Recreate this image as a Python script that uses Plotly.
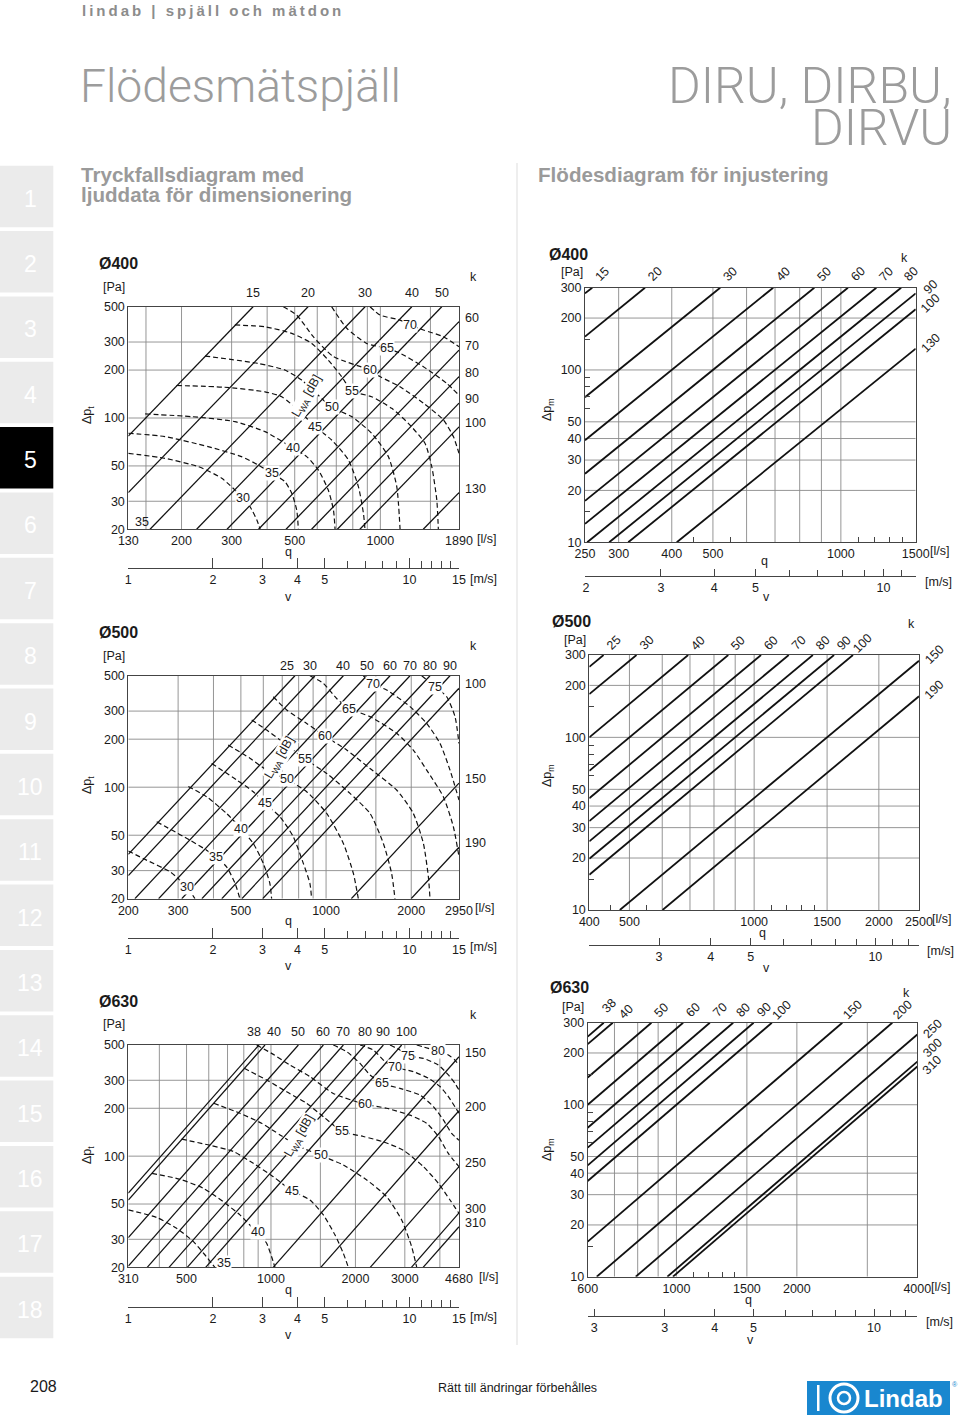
import math
import plotly.graph_objects as go

lg = math.log10
W, H = 960, 1416
FONT = "Liberation Sans"
INK = "#1a1a1a"

# ======================= DATA =======================
# ---- left charts: total pressure drop Δp_t vs flow q, k-lines + L_WA contours ----
L_p_range = [20, 500]
L_p_labels = [20, 30, 50, 100, 200, 300, 500]
L_p_grid = [30, 50, 100, 200, 300]
L_v_range = [1, 15]
L_v_major = [1, 2, 3, 4, 5, 10, 15]
L_v_text = ["1", "2", "3", "4", "5", "10", "15"]
L_v_minor = [6, 7, 8, 9, 11, 12, 13, 14]

# Ø400
L1_q_range = [130, 1890]
L1_q_labels = [130, 200, 300, 500, 1000, 1890]
L1_q_grid = [150, 200, 300, 400, 500, 600, 700, 800, 900, 1000, 1500]
L1_k = [15, 20, 30, 40, 50, 60, 70, 80, 90, 100, 130]
L1_k_q0 = [130, 130, 155, 226, 289, 373, 466, 573, 706, 847, 1415]
L1_k_p0 = [77, 34, 20, 20, 20, 20, 20, 20, 20, 20, 20]
L1_k_q1 = [357, 557, 884, 1290, 1644, 1890, 1890, 1890, 1890, 1890, 1890]
L1_k_p1 = [500, 500, 500, 500, 500, 403, 267, 182, 124, 88, 34]
L1_lwa = [30, 35, 40, 45, 50, 55, 60, 65, 70]
L1_lwa_q = [
    [130, 175, 229, 277, 330, 348, 368, 378],
    [130, 175, 248, 325, 372, 415, 462, 488, 508, 515],
    [149, 217, 308, 393, 495, 551, 605, 656, 684, 693],
    [192, 284, 393, 450, 529, 589, 674, 772, 837, 872, 883],
    [242, 372, 462, 529, 605, 674, 793, 932, 1067, 1142, 1173],
    [308, 393, 488, 574, 656, 731, 793, 932, 1096, 1254, 1435, 1516, 1579, 1599],
    [456, 508, 581, 684, 920, 997, 1173, 1417, 1666, 1806, 1890],
    [674, 762, 895, 1052, 1173, 1417, 1711, 1890],
    [920, 997, 1173, 1272, 1417, 1666, 1890],
]
L1_lwa_p = [
    [60.0, 55.8, 49.5, 41.8, 31.3, 27.8, 22.9, 20],
    [80.2, 76.4, 66.1, 57.2, 50.7, 45.0, 39.8, 33.7, 26.5, 20],
    [106, 102, 94.9, 82.1, 64.5, 57.2, 47.2, 35.3, 26.5, 20],
    [160, 156, 146, 136, 107, 88.3, 72.8, 54.5, 37.1, 25.2, 20],
    [245, 220, 200, 173, 139, 117, 102, 80.2, 57.2, 37.1, 20],
    [384, 374, 340, 294, 231, 182, 148, 136, 115, 92.6, 69.4, 49.5, 30.6, 20],
    [500, 443, 324, 243, 200, 182, 157, 124, 97.2, 76.4, 60],
    [500, 366, 294, 274, 255, 210, 165, 139],
    [500, 443, 412, 384, 357, 324, 280],
]

# Ø500
L2_q_range = [200, 2950]
L2_q_labels = [200, 300, 500, 1000, 2000, 2950]
L2_q_grid = [300, 400, 500, 600, 700, 800, 900, 1000, 1500, 2000]
L2_k = [25, 30, 40, 50, 60, 70, 80, 90, 100, 150, 190]
L2_k_q0 = [200, 200, 211, 256, 309, 364, 428, 504, 597, 1228, 1998]
L2_k_p0 = [38, 27.9, 20, 20, 20, 20, 20, 20, 20, 20, 20]
L2_k_q1 = [776, 913, 1151, 1392, 1683, 1980, 2330, 2742, 2950, 2950, 2950]
L2_k_p1 = [500, 500, 500, 500, 500, 500, 500, 500, 417, 106, 42]
L2_lwa = [30, 35, 40, 45, 50, 55, 60, 65, 70, 75]
L2_lwa_q = [
    [200, 232, 281, 304, 323, 344],
    [252, 330, 378, 407, 445, 477, 496],
    [326, 378, 445, 502, 553, 600, 633, 642],
    [394, 483, 553, 608, 687, 766, 831, 877, 889],
    [451, 538, 617, 726, 854, 1005, 1151, 1249, 1300],
    [546, 617, 687, 766, 842, 1005, 1215, 1430, 1594, 1705, 1752],
    [651, 726, 854, 992, 1183, 1430, 1776, 2034, 2208, 2299, 2330],
    [877, 978, 1090, 1205, 1430, 1776, 2034, 2268, 2597, 2818, 2950],
    [1354, 1469, 1637, 1980, 2268, 2528, 2742, 2950],
    [2178, 2427, 2669, 2856, 2950],
]
L2_lwa_p = [
    [39.8, 34.9, 29.5, 26.2, 23.6, 20],
    [60.7, 46.6, 40.3, 36.7, 31.7, 24.9, 20],
    [101, 87.2, 68.5, 54.7, 44.4, 33.3, 24.9, 20],
    [141, 111, 93.7, 79.2, 65.3, 48.9, 33.3, 24.9, 20],
    [184, 152, 128, 112, 93.7, 68.5, 44.4, 28.8, 20],
    [264, 228, 198, 171, 150, 122, 91.4, 68.5, 44.4, 28.8, 20],
    [369, 305, 251, 209, 171, 131, 96.0, 68.5, 44.4, 27.5, 20],
    [500, 448, 360, 311, 277, 218, 171, 128, 87.2, 56.5, 36.7],
    [500, 443, 407, 320, 251, 188, 128, 83.1],
    [500, 427, 369, 277, 188],
]

# Ø630
L3_q_range = [310, 4680]
L3_q_labels = [310, 500, 1000, 2000, 3000, 4680]
L3_q_grid = [400, 500, 600, 700, 800, 900, 1000, 1500, 2000, 3000, 4000]
L3_k = [38, 40, 50, 60, 70, 80, 90, 100, 150, 200, 250, 300, 310]
L3_k_q0 = [310, 310, 310, 310, 362, 433, 503, 585, 1018, 1505, 2258, 3166, 3486]
L3_k_p0 = [58.5, 53.0, 30.7, 20.35, 20, 20, 20, 20, 20, 20, 20, 20, 20]
L3_k_q1 = [906, 952, 1252, 1537, 1811, 2163, 2515, 2923, 4680, 4680, 4680, 4680, 4680]
L3_k_p1 = [500, 500, 500, 500, 500, 500, 500, 500, 422, 193, 86, 44, 36]
L3_lwa = [35, 40, 45, 50, 55, 60, 65, 70, 75, 80]
L3_lwa_q = [
    [310, 391, 461, 529, 582, 614, 631],
    [376, 474, 574, 676, 775, 853, 901, 965, 1005, 1033],
    [480, 606, 734, 865, 1019, 1185, 1377, 1537, 1692, 1811, 1887],
    [625, 775, 926, 1077, 1234, 1504, 1811, 2194, 2584, 2923, 3172, 3308],
    [803, 965, 1137, 1340, 1537, 1796, 2134, 2515, 2963, 3493, 3950, 4347, 4680],
    [889, 1005, 1169, 1377, 1668, 2164, 2584, 3130, 3590, 3950, 4288, 4680],
    [1668, 1862, 2077, 2255, 2481, 2883, 3398, 3792, 4115, 4406, 4680],
    [2077, 2317, 2549, 2767, 3216, 3640, 4005, 4288, 4680],
    [2656, 2883, 3087, 3493, 3950, 4288, 4527, 4680],
    [3308, 3640, 3950, 4288, 4527, 4680],
]
L3_lwa_p = [
    [45.9, 41.2, 35.2, 29.0, 23.9, 21.2, 20],
    [78.0, 71.5, 62.8, 51.7, 42.7, 36.0, 33.2, 28.3, 23.3, 20],
    [128, 117, 107, 90.1, 74.3, 60.7, 53.0, 42.7, 31.9, 24.5, 20],
    [215, 186, 161, 136, 117, 101, 88.0, 70.8, 55.6, 39.7, 27.0, 20],
    [357, 301, 254, 215, 177, 143, 133, 123, 109, 85.9, 67.5, 53.0, 43.7],
    [500, 443, 374, 316, 248, 212, 200, 181, 161, 133, 104, 85.9],
    [500, 454, 383, 324, 287, 267, 242, 205, 169, 139, 126],
    [500, 465, 393, 362, 340, 309, 274, 237, 186],
    [500, 465, 428, 412, 374, 324, 287, 261],
    [500, 476, 458, 433, 402, 374],
]

# ---- right charts: measuring pressure Δp_m vs flow q ----
R_p_range = [10, 300]
R_p_labels = [10, 20, 30, 40, 50, 100, 200, 300]
R_p_grid = [20, 30, 40, 50, 100, 200]
R_p_minor = [15, 60, 70, 80, 90, 150]

R1_q_range = [250, 1500]
R1_q_labels = [250, 300, 400, 500, 1000, 1500]
R1_q_grid = [300, 400, 500, 600, 700, 800, 900, 1000]
R1_q_minor = [450, 550, 1100, 1200, 1300, 1400]
R1_v_range = [1.99, 11.9]
R1_v_major = [2, 3, 4, 5, 10]
R1_v_text = ["2", "3", "4", "5", "10"]
R1_v_minor = [6, 7, 8, 9, 11]
R1_k = [15, 20, 30, 40, 50, 60, 70, 80, 90, 100, 130]
R1_k_q0 = [250, 250, 250, 250, 250, 250, 250, 253, 285, 316, 411]
R1_k_p0 = [278, 156, 69.4, 39.1, 25, 17.4, 12.8, 10, 10, 10, 10]
R1_k_q1 = [260, 346, 520, 693, 866, 1039, 1212, 1386, 1500, 1500, 1500]
R1_k_p1 = [300, 300, 300, 300, 300, 300, 300, 300, 278, 225, 133]

R2_q_range = [400, 2500]
R2_q_labels = [400, 500, 1000, 1500, 2000, 2500]
R2_q_grid = [500, 600, 700, 800, 900, 1000, 1500, 2000]
R2_q_minor = [450, 550, 1100, 1200, 1300, 1400]
R2_v_range = [2.035, 12.75]
R2_v_major = [3, 4, 5, 10]
R2_v_text = ["3", "4", "5", "10"]
R2_v_minor = [6, 7, 8, 9, 11, 12]
R2_k = [25, 30, 40, 50, 60, 70, 80, 90, 100, 150, 190]
R2_k_q0 = [400, 400, 400, 400, 400, 400, 400, 400, 400, 474, 601]
R2_k_p0 = [256, 178, 100, 64, 44.4, 32.7, 25, 19.8, 16, 10, 10]
R2_k_q1 = [433, 520, 693, 866, 1039, 1212, 1386, 1559, 1732, 2500, 2500]
R2_k_p1 = [300, 300, 300, 300, 300, 300, 300, 300, 300, 278, 173]

R3_q_range = [600, 4000]
R3_q_labels = [600, 1000, 1500, 2000, 4000]
R3_q_grid = [700, 800, 900, 1000, 1500, 2000, 3000]
R3_q_minor = [1100, 1200, 1300, 1400]
R3_v_range = [1.925, 12.83]
R3_v_major = [2, 3, 4, 5, 10]
R3_v_text = ["3", "3", "4", "5", "10"]
R3_v_minor = [6, 7, 8, 9, 11, 12]
R3_k = [38, 40, 50, 60, 70, 80, 90, 100, 150, 200, 250, 300, 310]
R3_k_q0 = [600, 600, 600, 600, 600, 600, 600, 600, 600, 632, 791, 949, 980]
R3_k_p0 = [249, 225, 144, 100, 73.5, 56.3, 44.4, 36, 16, 10, 10, 10, 10]
R3_k_q1 = [658, 693, 866, 1039, 1212, 1386, 1559, 1732, 2598, 3464, 4000, 4000, 4000]
R3_k_p1 = [300, 300, 300, 300, 300, 300, 300, 300, 300, 300, 256, 178, 167]

# ======================= LABEL POSITIONS (layout) =======================
L1_lwa_lab = [(330, 31.3), (415, 45), (495, 64.5), (589, 88.3), (674, 117), (793, 148), (920, 200), (1052, 274), (1272, 384)]
L2_lwa_lab = [(323, 23.6), (407, 36.7), (502, 54.7), (608, 79.2), (726, 112), (842, 150), (992, 209), (1205, 311), (1469, 443), (2427, 427)]
L3_lwa_lab = [(680, 21.2), (901, 33.2), (1185, 60.7), (1504, 101), (1796, 143), (2164, 212), (2481, 287), (2767, 362), (3087, 428), (3950, 458)]

charts = [
    dict(side="L", title="Ø400", q_range=L1_q_range, q_labels=L1_q_labels, q_grid=L1_q_grid, q_minor=None,
         k=L1_k, q0=L1_k_q0, p0=L1_k_p0, q1=L1_k_q1, p1=L1_k_p1,
         lwa=L1_lwa, lwa_q=L1_lwa_q, lwa_p=L1_lwa_p, lwa_lab=L1_lwa_lab, lwa_title=(551, 136),
         extra=[("35", 145, 22.3)], v_range=L_v_range, v_major=L_v_major, v_text=L_v_text, v_minor=L_v_minor,
         box=(128.3, 459, 306.7, 529.3, 568), top_dy=14, top_dx={},
         txt=dict(title=(97, 263), pa=(114, 287), dp=(88, 415), k=(473, 277), q=(288, 552), v=(288, 597), ls=(475, 539), ms=(468, 579))),
    dict(side="L", title="Ø500", q_range=L2_q_range, q_labels=L2_q_labels, q_grid=L2_q_grid, q_minor=None,
         k=L2_k, q0=L2_k_q0, p0=L2_k_p0, q1=L2_k_q1, p1=L2_k_p1,
         lwa=L2_lwa, lwa_q=L2_lwa_q, lwa_p=L2_lwa_p, lwa_lab=L2_lwa_lab, lwa_title=(687, 152),
         extra=[], v_range=L_v_range, v_major=L_v_major, v_text=L_v_text, v_minor=L_v_minor,
         box=(128.3, 459, 675.7, 898.7, 938), top_dy=10, top_dx={25: -8, 30: -5},
         txt=dict(title=(97, 632), pa=(114, 656), dp=(88, 785), k=(473, 646), q=(288, 921), v=(288, 966), ls=(473, 908), ms=(468, 947))),
    dict(side="L", title="Ø630", q_range=L3_q_range, q_labels=L3_q_labels, q_grid=L3_q_grid, q_minor=None,
         k=L3_k, q0=L3_k_q0, p0=L3_k_p0, q1=L3_k_q1, p1=L3_k_p1,
         lwa=L3_lwa, lwa_q=L3_lwa_q, lwa_p=L3_lwa_p, lwa_lab=L3_lwa_lab, lwa_title=(1269, 133),
         extra=[], v_range=L_v_range, v_major=L_v_major, v_text=L_v_text, v_minor=L_v_minor,
         box=(128.3, 459, 1045, 1267.3, 1306.7), top_dy=13, top_dx={38: -5, 40: 9, 100: 5},
         txt=dict(title=(97, 1001), pa=(114, 1024), dp=(88, 1155), k=(473, 1015), q=(288, 1290), v=(288, 1335), ls=(477, 1277), ms=(468, 1317))),
    dict(side="R", title="Ø400", q_range=R1_q_range, q_labels=R1_q_labels, q_grid=R1_q_grid, q_minor=R1_q_minor,
         k=R1_k, q0=R1_k_q0, p0=R1_k_p0, q1=R1_k_q1, p1=R1_k_p1,
         v_range=R1_v_range, v_major=R1_v_major, v_text=R1_v_text, v_minor=R1_v_minor,
         box=(585, 915.7, 287.7, 542.3, 576), top_dy=14, top_dx={}, top_dyk={}, right_dy={},
         txt=dict(title=(547, 254), pa=(572, 272), dp=(548, 410), k=(904, 258), q=(764, 561), v=(766, 597), ls=(928, 551), ms=(923, 582))),
    dict(side="R", title="Ø500", q_range=R2_q_range, q_labels=R2_q_labels, q_grid=R2_q_grid, q_minor=R2_q_minor,
         k=R2_k, q0=R2_k_q0, p0=R2_k_p0, q1=R2_k_q1, p1=R2_k_p1,
         v_range=R2_v_range, v_major=R2_v_major, v_text=R2_v_text, v_minor=R2_v_minor,
         box=(589.3, 919, 655, 910, 945), top_dy=12, top_dx={}, top_dyk={}, right_dy={},
         txt=dict(title=(550, 621), pa=(575, 640), dp=(548, 776), k=(911, 624), q=(762, 933), v=(766, 968), ls=(930, 919), ms=(925, 951))),
    dict(side="R", title="Ø630", q_range=R3_q_range, q_labels=R3_q_labels, q_grid=R3_q_grid, q_minor=R3_q_minor,
         k=R3_k, q0=R3_k_q0, p0=R3_k_p0, q1=R3_k_q1, p1=R3_k_p1,
         v_range=R3_v_range, v_major=R3_v_major, v_text=R3_v_text, v_minor=R3_v_minor,
         box=(587.7, 917.3, 1022.7, 1276.7, 1316), top_dy=13, top_dx={38: 5, 40: 13}, top_dyk={38: 17, 40: 11},
         right_dy={300: 14, 310: 1},
         txt=dict(title=(548, 987), pa=(573, 1007), dp=(548, 1150), k=(906, 993), q=(748, 1300), v=(750, 1340), ls=(929, 1287), ms=(924, 1322))),
]


# ======================= FIGURE =======================
def px(x):
    return x / W


def py(y):
    return 1 - y / H


def aname(kind, n):
    return f"{kind}axis" + ("" if n == 1 else str(n))


def aref(kind, n):
    return kind + ("" if n == 1 else str(n))


def fmt(v):
    return str(int(v)) if float(v).is_integer() else str(v)


fig = go.Figure()
layout = dict(template="none", width=W, height=H, autosize=False,
              margin=dict(l=0, r=0, t=0, b=0, pad=0, autoexpand=False), paper_bgcolor="white",
              plot_bgcolor="rgba(0,0,0,0)", showlegend=False,
              font=dict(family=FONT, size=12.5, color=INK))
ann = []
shapes = []


def T(text, x, y, size=12.5, color=INK, xanchor="center", yanchor="middle", angle=0, family=FONT, weight=None):
    f = dict(family=family, size=size, color=color)
    if weight is not None:
        f["weight"] = weight
    ann.append(dict(text=text, x=px(x), y=py(y), xref="paper", yref="paper", showarrow=False,
                    xanchor=xanchor, yanchor=yanchor, textangle=angle, font=f))


TICKFONT = dict(family=FONT, size=12.5, color=INK)
GRID = "#8a8a8a"
FRAME = "#444444"

for i, c in enumerate(charts):
    n, m = 2 * i + 1, 2 * i + 2
    x0, x1, y0, y1, vy = c["box"]
    left = c["side"] == "L"
    p_range = L_p_range if left else R_p_range
    p_labels = L_p_labels if left else R_p_labels
    p_grid = L_p_grid if left else R_p_grid
    xr, yr = aref("x", n), aref("y", n)

    xa = dict(type="log", range=[lg(c["q_range"][0]), lg(c["q_range"][1])], domain=[px(x0), px(x1)],
              anchor=yr, showline=True, mirror=True, linecolor=FRAME, linewidth=1, automargin=False,
              ticks="", tickmode="array", tickvals=c["q_labels"], ticktext=[fmt(v) for v in c["q_labels"]],
              showgrid=False, zeroline=False, tickfont=TICKFONT, fixedrange=True)
    if c["q_minor"]:
        xa["minor"] = dict(tickmode="array", tickvals=c["q_minor"], ticks="inside", ticklen=5,
                           tickcolor=FRAME, tickwidth=1, showgrid=False)
    layout[aname("x", n)] = xa

    ya = dict(type="log", range=[lg(p_range[0]), lg(p_range[1])], domain=[py(y1), py(y0)],
              anchor=xr, showline=True, mirror=True, linecolor=FRAME, linewidth=1, automargin=False,
              ticks="", tickmode="array", tickvals=p_labels, ticktext=[fmt(v) for v in p_labels],
              showgrid=False, zeroline=False, tickfont=TICKFONT, fixedrange=True)
    if not left:
        ya["minor"] = dict(tickmode="array", tickvals=R_p_minor, ticks="inside", ticklen=5,
                           tickcolor=FRAME, tickwidth=1, showgrid=False)
    layout[aname("y", n)] = ya

    # grid lines (drawn from the grid value lists, spanning the axis ranges)
    gx, gy = [], []
    for g in c["q_grid"]:
        gx += [g, g, None]
        gy += [p_range[0], p_range[1], None]
    for g in p_grid:
        gx += [c["q_range"][0], c["q_range"][1], None]
        gy += [g, g, None]
    fig.add_trace(go.Scatter(x=gx, y=gy, mode="lines", line=dict(color=GRID, width=0.9),
                             xaxis=xr, yaxis=yr, hoverinfo="skip"))

    # velocity axis
    layout[aname("x", m)] = dict(type="log", range=[lg(c["v_range"][0]), lg(c["v_range"][1])],
                                 domain=[px(x0), px(x1)], anchor=aref("y", m), showline=True,
                                 linecolor=FRAME, linewidth=1, ticks="inside", automargin=False,
                                 ticklen=10 if left else 7, tickwidth=1, tickcolor=FRAME,
                                 tickmode="array", tickvals=c["v_major"], ticktext=c["v_text"],
                                 showgrid=False, zeroline=False, tickfont=TICKFONT, fixedrange=True,
                                 minor=dict(tickmode="array", tickvals=c["v_minor"], ticks="inside",
                                            ticklen=7 if left else 6, tickcolor=FRAME, tickwidth=1,
                                            showgrid=False))
    layout[aname("y", m)] = dict(domain=[py(vy), py(vy) + 0.001], visible=False, range=[0, 1],
                                 anchor=aref("x", m), fixedrange=True, automargin=False)
    fig.add_trace(go.Scatter(x=[c["v_range"][0]], y=[0.5], mode="markers", marker=dict(opacity=0),
                             xaxis=aref("x", m), yaxis=aref("y", m), hoverinfo="skip"))

    # k lines
    xs, ys = [], []
    for a, b, cc, d in zip(c["q0"], c["p0"], c["q1"], c["p1"]):
        xs += [a, cc, None]
        ys += [b, d, None]
    fig.add_trace(go.Scatter(x=xs, y=ys, mode="lines", line=dict(color="#111", width=1.25 if left else 1.8),
                             xaxis=xr, yaxis=yr, hoverinfo="skip"))

    # k labels
    pmax = p_range[1]
    for k, qe, pe in zip(c["k"], c["q1"], c["p1"]):
        if pe >= pmax:
            if left:
                ann.append(dict(text=str(k), x=lg(qe), y=1, xref=xr, yref=yr + " domain",
                                xshift=c["top_dx"].get(k, 0), yshift=c["top_dy"], showarrow=False,
                                xanchor="center", yanchor="middle", font=TICKFONT))
            else:
                ann.append(dict(text=str(k), x=lg(qe), y=1, xref=xr, yref=yr + " domain",
                                xshift=c["top_dx"].get(k, 10), yshift=c["top_dyk"].get(k, c["top_dy"]),
                                showarrow=False, textangle=-45,
                                xanchor="center", yanchor="middle", font=TICKFONT))
        else:
            if left:
                ann.append(dict(text=str(k), x=1, y=lg(pe), xref=xr + " domain", yref=yr,
                                xshift=4, yshift=4, showarrow=False, xanchor="left", yanchor="middle",
                                font=TICKFONT))
            else:
                ann.append(dict(text=str(k), x=1, y=lg(pe), xref=xr + " domain", yref=yr,
                                xshift=15, yshift=c["right_dy"].get(k, 6), showarrow=False, textangle=-45,
                                xanchor="center", yanchor="middle", font=TICKFONT))

    # sound contours
    if left:
        for lev, qs, ps in zip(c["lwa"], c["lwa_q"], c["lwa_p"]):
            fig.add_trace(go.Scatter(x=qs, y=ps, mode="lines",
                                     line=dict(color="#111", width=1.2, dash="5px,3px", shape="spline",
                                               smoothing=0.6),
                                     xaxis=xr, yaxis=yr, hoverinfo="skip"))
        for lev, (ql, pl) in zip(c["lwa"], c["lwa_lab"]):
            ann.append(dict(text=str(lev), x=lg(ql), y=lg(pl), xref=xr, yref=yr,
                            showarrow=False, bgcolor="white", borderpad=0, font=TICKFONT))
        for t, ql, pl in c["extra"]:
            ann.append(dict(text=t, x=lg(ql), y=lg(pl), xref=xr, yref=yr,
                            showarrow=False, font=TICKFONT))
        ql, pl = c["lwa_title"]
        ann.append(dict(text="L<sub>WA</sub> [dB]", x=lg(ql), y=lg(pl), xref=xr, yref=yr,
                        showarrow=False, textangle=-60, bgcolor="white", borderpad=0, font=TICKFONT))

    # chart texts
    t = c["txt"]
    T("<b>" + c["title"] + "</b>", *t["title"], size=16, xanchor="left")
    T("[Pa]", *t["pa"])
    T("Δp<sub>t</sub>" if left else "Δp<sub>m</sub>", *t["dp"], angle=-90)
    T("k", *t["k"])
    T("q", *t["q"])
    T("v", *t["v"])
    T("[l/s]", *t["ls"], xanchor="left")
    T("[m/s]", *t["ms"], xanchor="left")

# ---------------- page decorations ----------------
for j in range(18):
    top = 165.7 + j * 65.35
    active = (j == 4)
    shapes.append(dict(type="rect", xref="paper", yref="paper", x0=0, x1=px(53.3), y0=py(top + 61.5), y1=py(top),
                       fillcolor="#000000" if active else "#ebebeb", line=dict(width=0), layer="below"))
    T(str(j + 1), 30, top + 33, size=23, color="white")

shapes.append(dict(type="line", xref="paper", yref="paper", x0=px(517), x1=px(517), y0=py(163), y1=py(1345),
                   line=dict(color="#dddddd", width=1)))

header = "\u2009".join("lindab | spjäll och mätdon")
T("<b>" + header + "</b>", 80, 10, size=15, color="#8c8c8c", xanchor="left")
T("Flödesmätspjäll", 78, 86, size=46.2, color="#9c9c9c", xanchor="left", family="Roboto", weight=300)
T("DIRU, DIRBU,", 954, 86, size=50, color="#9c9c9c", xanchor="right", family="Roboto", weight=300)
T("DIRVU", 954, 128, size=50, color="#9c9c9c", xanchor="right", family="Roboto", weight=300)
T("<b>Tryckfallsdiagram med</b>", 79, 174, size=20.6, color="#9a9a9a", xanchor="left")
T("<b>ljuddata för dimensionering</b>", 79, 195, size=20.6, color="#9a9a9a", xanchor="left")
T("<b>Flödesdiagram för injustering</b>", 536, 174, size=20.6, color="#9a9a9a", xanchor="left")

T("208", 28, 1386, size=16, xanchor="left")
T("Rätt till ändringar förbehålles", 517, 1388, size=12.5)
shapes.append(dict(type="rect", xref="paper", yref="paper", x0=px(807), x1=px(950), y0=py(1415), y1=py(1381),
                   fillcolor="#1987cf", line=dict(width=0)))
shapes.append(dict(type="rect", xref="paper", yref="paper", x0=px(817), x1=px(819.5), y0=py(1411), y1=py(1385),
                   fillcolor="white", line=dict(width=0)))
shapes.append(dict(type="circle", xref="paper", yref="paper", x0=px(830), x1=px(858), y0=py(1412), y1=py(1384),
                   fillcolor="rgba(0,0,0,0)", line=dict(color="white", width=3)))
shapes.append(dict(type="circle", xref="paper", yref="paper", x0=px(838), x1=px(850), y0=py(1404), y1=py(1392),
                   fillcolor="rgba(0,0,0,0)", line=dict(color="white", width=2.5)))
T("<b>Lindab</b>", 903, 1398, size=24, color="white")
T("®", 955, 1384, size=7, color="#1987cf")

layout["annotations"] = ann
layout["shapes"] = shapes
fig.update_layout(**layout)

PAGE_FIX = """
document.documentElement.style.margin='0';document.documentElement.style.padding='0';
document.documentElement.style.overflow='hidden';
document.body.style.margin='0';document.body.style.padding='0';document.body.style.overflow='hidden';
var gd=document.querySelector('.plotly-graph-div');
if(gd){gd.style.position='absolute';gd.style.left='0px';gd.style.top='0px';}
"""
fig.write_html("out.html", post_script=PAGE_FIX, config={"displayModeBar": False})
